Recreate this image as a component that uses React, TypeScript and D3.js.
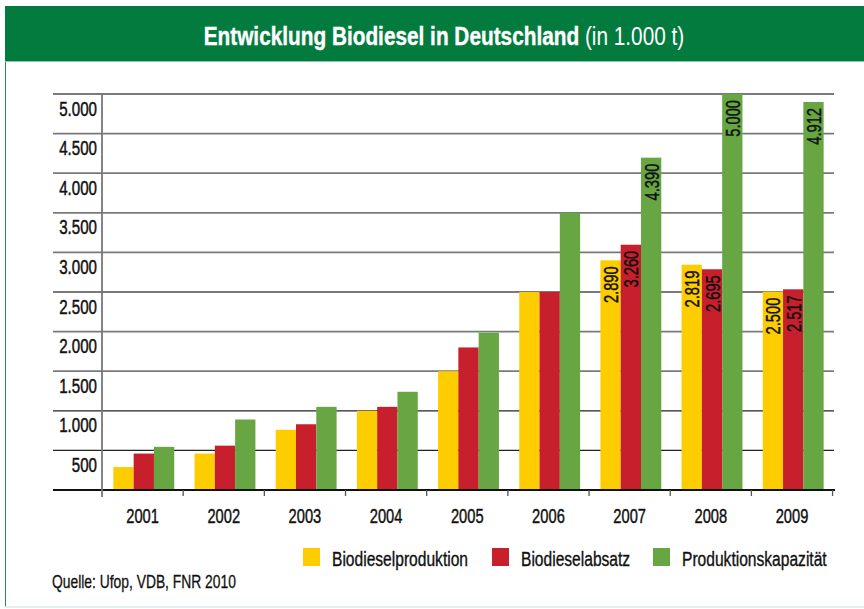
import React from "react";
import * as d3 from "d3";

const years = ["2001", "2002", "2003", "2004", "2005", "2006", "2007", "2008", "2009"];
// bar heights as drawn in the picture
const production = [290, 460, 760, 1000, 1500, 2500, 2900, 2845, 2504];
const sales = [460, 560, 830, 1050, 1800, 2500, 3097, 2787, 2534];
const capacity = [545, 890, 1050, 1240, 1985, 3500, 4196, 5000, 4899];
// printed value labels (2007–2009)
const labeledYears = ["2007", "2008", "2009"];
const productionLabels = ["2.890", "2.819", "2.500"];
const salesLabels = ["3.260", "2.695", "2.517"];
const capacityLabels = ["4.390", "5.000", "4.912"];
const yTicks = [500, 1000, 1500, 2000, 2500, 3000, 3500, 4000, 4500, 5000];
const seriesNames = ["Biodieselproduktion", "Biodieselabsatz", "Produktionskapazität"];
const seriesColors = ["#fdcd00", "#c71f2b", "#67a643"];
const titleBold = "Entwicklung Biodiesel in Deutschland";
const titleLight = " (in 1.000 t)";
const sourceText = "Quelle: Ufop, VDB, FNR 2010";

const FONT = "'Liberation Sans', Arial, sans-serif";
const de = d3.formatLocale({ decimal: ",", thousands: ".", grouping: [3], currency: ["", " €"] });
const fmt = de.format(",");

function CText(props: any) {
  const { x, y, sx = 1, rotate = 0, anchor = "start", size, weight = "normal", fill = "#111", dy, sw = 0, children } = props;
  return (
    <text
      transform={`translate(${x},${y}) rotate(${rotate}) scale(${sx},1)`}
      textAnchor={anchor}
      fontSize={size}
      fontWeight={weight}
      fill={fill}
      stroke={sw > 0 ? fill : "none"}
      strokeWidth={sw}
      fontFamily={FONT}
      dy={dy}
    >
      {children}
    </text>
  );
}

export default function App() {
  const W = 864, H = 609;
  const series = [production, sales, capacity];
  const labels = [productionLabels, salesLabels, capacityLabels];
  const x0 = d3.scaleBand<string>().domain(years).range([102, 835]).paddingInner(0.25).paddingOuter(0.14);
  const step = x0.step();
  const x1 = d3.scaleBand<number>().domain([0, 1, 2]).range([0, x0.bandwidth()]);
  const y = d3.scaleLinear().domain([0, 5000]).range([490, 94]);
  const boundaries = d3.range(years.length + 1).map((i) => 102 + i * step);

  return (
    <svg width={W} height={H} style={{ position: "absolute", left: 0, top: 0, display: "block", background: "#fff" }}>
      {/* frame */}
      <line x1={5.5} y1={60} x2={5.5} y2={607} stroke="#2d8a4e" strokeWidth={1} />
      <line x1={5} y1={607} x2={864} y2={607} stroke="#dfe8ee" strokeWidth={1.5} />
      {/* header */}
      <rect x={5} y={6} width={W - 5} height={55} fill="#047b3e" />
      <line x1={5} y1={61.5} x2={W} y2={61.5} stroke="#86c99a" strokeWidth={1} />
      <CText x={444} y={45} sx={0.8} anchor="middle" size={26} fill="#fff">
        <tspan fontWeight="bold" stroke="#fff" strokeWidth={0.4}>{titleBold}</tspan>
        <tspan fontWeight="normal">{titleLight}</tspan>
      </CText>

      {/* gridlines */}
      {yTicks.map((t) => (
        <line
          key={t}
          x1={53}
          x2={834}
          y1={y(t)}
          y2={y(t)}
          stroke={t <= 1000 ? "#222" : "#7a7a7a"}
          strokeWidth={t <= 1000 ? 1.3 : 1.8}
        />
      ))}
      {yTicks.map((t) => (
        <CText key={"l" + t} x={97} y={y(t) + 21.5} sx={0.72} anchor="end" size={21} sw={0.5}>
          {fmt(t)}
        </CText>
      ))}

      {/* bars */}
      {years.map((yr, i) => {
        const li = labeledYears.indexOf(yr);
        return (
          <g key={yr} transform={`translate(${x0(yr)},0)`}>
            {series.map((s, j) => (
              <rect
                key={j}
                x={x1(j)}
                y={y(s[i])}
                width={x1.bandwidth()}
                height={y(0) - y(s[i])}
                fill={seriesColors[j]}
              />
            ))}
            {li >= 0 &&
              series.map((s, j) => (
                <CText
                  key={"v" + j}
                  x={(x1(j) as number) + x1.bandwidth() / 2}
                  y={y(s[i]) + 6}
                  rotate={-90}
                  sx={0.7}
                  anchor="end"
                  size={21}
                  dy="0.36em"
                  sw={0.45}
                >
                  {labels[j][li]}
                </CText>
              ))}
          </g>
        );
      })}

      {/* axes */}
      <line x1={53} x2={835} y1={490} y2={490} stroke="#111" strokeWidth={1.8} />
      <line x1={102} x2={102} y1={93} y2={497} stroke="#777" strokeWidth={1.8} />
      {boundaries.slice(1).map((b, i) => (
        <line key={i} x1={b} x2={b} y1={490} y2={496} stroke="#555" strokeWidth={1.3} />
      ))}
      {years.map((yr, i) => (
        <CText key={"x" + yr} x={102 + (i + 0.5) * step} y={523} sx={0.7} anchor="middle" size={21} sw={0.45}>
          {yr}
        </CText>
      ))}

      {/* legend */}
      {seriesNames.map((n, j) => {
        const lx = [303, 492, 653][j];
        return (
          <g key={n}>
            <rect x={lx} y={548} width={17} height={18} fill={seriesColors[j]} />
            <CText x={lx + 29} y={566} sx={0.8} size={19.5} sw={0.35}>
              {n}
            </CText>
          </g>
        );
      })}

      {/* source */}
      <CText x={52} y={588} sx={0.77} size={18} sw={0.3}>
        {sourceText}
      </CText>
    </svg>
  );
}
